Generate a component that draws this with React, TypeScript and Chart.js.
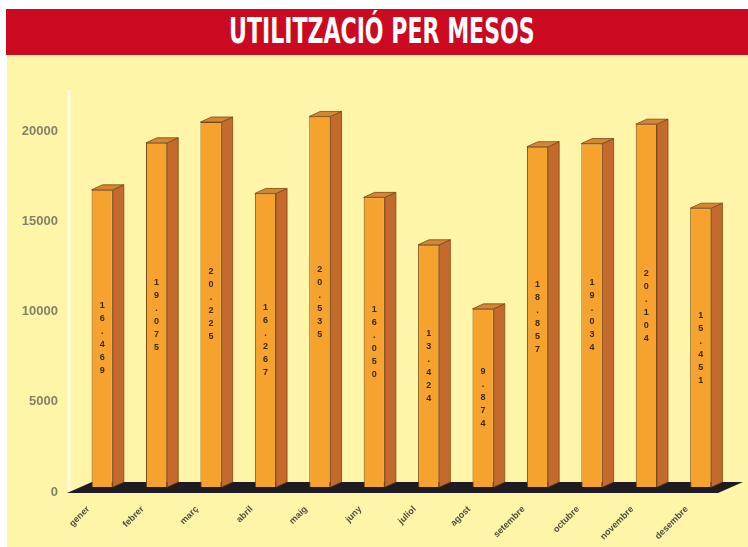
import React, { useEffect, useRef } from "react";
import { Chart, registerables } from "chart.js";

Chart.register(...registerables);

const TITLE = "UTILITZACIÓ PER MESOS";
const months = ["gener", "febrer", "març", "abril", "maig", "juny", "juliol", "agost", "setembre", "octubre", "novembre", "desembre"];
const usage = [16469, 19075, 20225, 16267, 20535, 16050, 13424, 9874, 18857, 19034, 20104, 15451];
const yTicks = [0, 5000, 10000, 15000, 20000];
const yMax = 22000;

const DX = 11;
const DY = -5;

const fmt = (v: number) => Math.floor(v / 1000) + "." + String(v % 1000).padStart(3, "0");

const bar3d = {
  id: "bar3d",
  beforeDatasetsDraw(chart: any) {
    const { ctx, chartArea: a } = chart;
    const yb = chart.scales.y.getPixelForValue(0);
    ctx.save();
    ctx.strokeStyle = "#FFFCE2";
    ctx.lineWidth = 3;
    ctx.beginPath();
    ctx.moveTo(a.left - 6, a.top);
    ctx.lineTo(a.left - 6, yb + 5);
    ctx.stroke();
    ctx.fillStyle = "#1E1C22";
    ctx.beginPath();
    ctx.moveTo(a.left - 8, yb + 6);
    ctx.lineTo(a.right - 10, yb + 6);
    ctx.lineTo(a.right + 15, yb - 5);
    ctx.lineTo(a.left + 17, yb - 5);
    ctx.closePath();
    ctx.fill();
    ctx.restore();
  },
  afterDatasetsDraw(chart: any) {
    const { ctx } = chart;
    const meta = chart.getDatasetMeta(0);
    ctx.save();
    meta.data.forEach((bar: any, i: number) => {
      const { x, y, base, width } = bar.getProps(["x", "y", "base", "width"], true);
      const l = x - width / 2;
      const r = x + width / 2;
      ctx.lineWidth = 0.8;
      ctx.strokeStyle = "#7A4A16";
      ctx.fillStyle = "#C46A2C";
      ctx.beginPath();
      ctx.moveTo(r, y);
      ctx.lineTo(r + DX, y + DY);
      ctx.lineTo(r + DX, base + DY);
      ctx.lineTo(r, base);
      ctx.closePath();
      ctx.fill();
      ctx.stroke();
      ctx.fillStyle = "#D48536";
      ctx.beginPath();
      ctx.moveTo(l, y);
      ctx.lineTo(l + DX, y + DY);
      ctx.lineTo(r + DX, y + DY);
      ctx.lineTo(r, y);
      ctx.closePath();
      ctx.fill();
      ctx.stroke();
      const s = fmt(usage[i]).split("");
      const step = 13;
      const mid = (y + base) / 2;
      const start = mid - ((s.length - 1) * step) / 2;
      ctx.fillStyle = "#3E2A0C";
      ctx.font = "bold 9px 'Liberation Sans', Arial, sans-serif";
      ctx.textAlign = "center";
      ctx.textBaseline = "middle";
      s.forEach((ch, k) => ctx.fillText(ch, x, start + k * step));
    });
    ctx.restore();
  },
};

export default function App() {
  const canvasRef = useRef<HTMLCanvasElement | null>(null);
  const titleRef = useRef<HTMLSpanElement | null>(null);

  useEffect(() => {
    document.body.style.margin = "0";
    const t = titleRef.current;
    if (t) {
      const w = t.offsetWidth;
      const target = 306;
      const sc = target / w;
      t.style.transform = `scaleX(${sc})`;
      t.style.left = `${382 - 6 - target / 2}px`;
    }
    const canvas = canvasRef.current!;
    const chart = new Chart(canvas, {
      type: "bar",
      data: {
        labels: months,
        datasets: [
          {
            data: usage,
            backgroundColor: "#F6A22F",
            borderColor: "#7A4A16",
            borderWidth: 1,
            barPercentage: 0.39,
            categoryPercentage: 1,
          },
        ],
      },
      options: {
        responsive: false,
        animation: false,
        devicePixelRatio: 1,
        layout: { padding: { top: 35, right: 20, left: 0, bottom: 0 } },
        plugins: { legend: { display: false }, tooltip: { enabled: false }, title: { display: false } },
        scales: {
          x: {
            grid: { display: false, drawTicks: false },
            border: { display: false },
            ticks: {
              autoSkip: false,
              minRotation: 45,
              maxRotation: 45,
              labelOffset: -14,
              padding: 17,
              color: "#4E4B3E",
              font: { family: "'Liberation Sans', Arial, sans-serif", size: 9, weight: "bold" },
            },
            afterFit: (s: any) => {
              s.height = 60;
            },
          },
          y: {
            min: 0,
            max: yMax,
            afterBuildTicks: (s: any) => {
              s.ticks = yTicks.map((v) => ({ value: v }));
            },
            grid: { display: false, drawTicks: false },
            border: { display: false },
            ticks: {
              padding: 17,
              labelOffset: 5,
              color: "#858169",
              font: { family: "'Liberation Sans', Arial, sans-serif", size: 13, weight: "bold" },
              callback: (v: any) => String(v),
            },
            afterFit: (s: any) => {
              s.width = 68;
            },
          },
        },
      },
      plugins: [bar3d],
    } as any);
    return () => chart.destroy();
  }, []);

  return (
    <div style={{ position: "relative", width: 748, height: 547, background: "#FFFFFF", overflow: "hidden" }}>
      <div style={{ position: "absolute", left: 6, top: 9, width: 742, height: 46, background: "#CB0A22" }}>
        <span
          ref={titleRef}
          style={{
            position: "absolute",
            top: 5,
            left: 0,
            whiteSpace: "nowrap",
            transformOrigin: "left top",
            color: "#FFFFFF",
            fontFamily: "'Liberation Sans Narrow', 'DejaVu Sans Condensed', 'Liberation Sans', sans-serif",
            fontWeight: "bold",
            fontSize: 35,
            lineHeight: 1,
          }}
        >
          {TITLE}
        </span>
      </div>
      <div style={{ position: "absolute", left: 7, top: 55, width: 741, height: 492, background: "#FEF5A9" }}>
        <canvas ref={canvasRef} width={741} height={492} style={{ display: "block", width: 741, height: 492 }} />
      </div>
    </div>
  );
}
